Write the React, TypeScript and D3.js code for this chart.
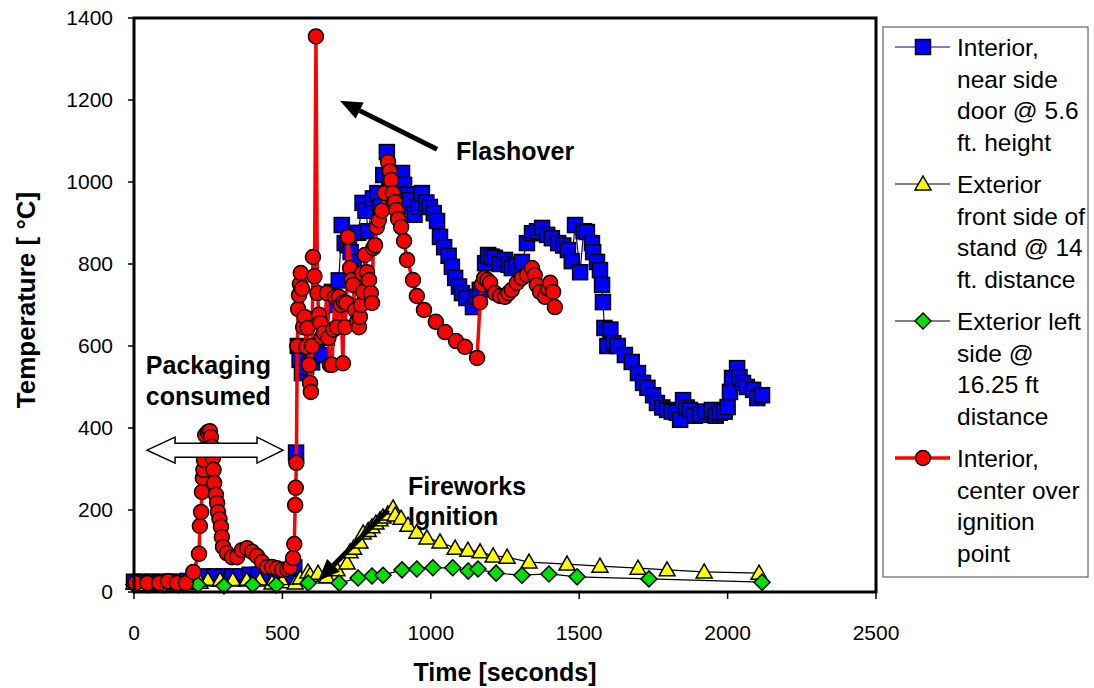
import React from 'react';
import * as d3 from 'd3';

// [time (s), temperature (°C)]
const interiorDoor: [number, number][] = [
  [0, 25], [30, 25], [60, 25], [90, 25], [120, 25], [150, 25], [180, 27], [210, 32], [240, 38], [270, 38],
  [300, 38], [330, 38], [360, 38], [390, 42], [420, 42], [450, 40], [480, 38], [510, 40], [530, 42], [540, 60],
  [546, 340], [552, 600], [558, 566], [566, 534], [580, 549], [600, 560], [615, 583], [633, 578], [650, 620],
  [667, 732], [680, 700], [690, 760], [700, 895], [710, 851], [720, 846], [730, 829], [740, 805], [755, 876],
  [770, 949], [780, 930], [790, 880], [805, 960], [820, 973], [830, 940], [840, 1017], [852, 1073], [860, 1012],
  [870, 990], [880, 960], [890, 940], [903, 1022], [910, 993], [920, 970], [930, 956], [945, 920], [960, 940],
  [970, 973], [985, 950], [997, 939], [1010, 924], [1021, 905], [1031, 866], [1045, 841], [1060, 820],
  [1071, 793], [1082, 766], [1095, 745], [1105, 729], [1120, 717], [1142, 695], [1155, 720], [1165, 737],
  [1183, 802], [1193, 822], [1205, 818], [1216, 815], [1232, 800], [1250, 810], [1262, 798], [1273, 790],
  [1290, 795], [1307, 805], [1324, 851], [1341, 875], [1358, 880], [1375, 888], [1392, 871], [1408, 863],
  [1429, 851], [1446, 845], [1462, 834], [1475, 807], [1486, 895], [1503, 780], [1515, 880], [1526, 878],
  [1543, 851], [1547, 829], [1560, 805], [1570, 785], [1577, 749], [1580, 707], [1585, 644], [1595, 600],
  [1605, 640], [1615, 607], [1630, 600], [1654, 578], [1677, 561], [1698, 534], [1715, 510], [1730, 498],
  [1749, 480], [1762, 461], [1780, 450], [1796, 444], [1812, 440], [1829, 437], [1840, 420], [1850, 468],
  [1862, 450], [1873, 444], [1890, 430], [1907, 432], [1925, 440], [1947, 444], [1960, 430], [1974, 437],
  [1990, 440], [2000, 451], [2008, 488], [2015, 522], [2032, 546], [2040, 524], [2052, 510], [2065, 500],
  [2086, 493], [2100, 473], [2116, 480],
];

const exteriorFront: [number, number][] = [
  [0, 22], [30, 18], [60, 18], [90, 20], [120, 20], [150, 20], [180, 20], [222, 24], [249, 29], [290, 29],
  [333, 29], [380, 29], [424, 29], [465, 22], [500, 25], [543, 22], [560, 34], [586, 49], [593, 41], [620, 46],
  [650, 37], [684, 54], [718, 71], [728, 98], [740, 107], [761, 122], [772, 144], [789, 150], [802, 159],
  [815, 168], [829, 176], [839, 183], [855, 190], [873, 205], [880, 188], [900, 180], [923, 163], [953, 146],
  [987, 132], [1031, 122], [1082, 107], [1125, 102], [1166, 98], [1210, 88], [1257, 85], [1331, 73],
  [1459, 68], [1570, 63], [1698, 58], [1796, 54], [1921, 49], [2106, 46],
];

const exteriorLeft: [number, number][] = [
  [0, 18], [50, 18], [100, 18], [150, 18], [215, 18], [303, 15], [400, 18], [479, 17], [587, 22], [691, 22],
  [755, 34], [802, 39], [839, 41], [903, 54], [953, 56], [1007, 59], [1074, 59], [1126, 51], [1159, 56],
  [1220, 46], [1307, 41], [1398, 44], [1493, 37], [1735, 32], [2116, 24],
];

const interiorCenter: [number, number][] = [
  [5, 22], [45, 22], [85, 22], [115, 26], [145, 22], [175, 22], [200, 49], [219, 93], [222, 161], [226, 195],
  [229, 244], [232, 278], [234, 298], [236, 322], [238, 349], [240, 383], [249, 390], [256, 392], [259, 378],
  [263, 354], [266, 327], [268, 298], [270, 266], [276, 237], [280, 217], [283, 195], [288, 178], [293, 159],
  [296, 134], [300, 110], [313, 95], [330, 85], [347, 85], [364, 102], [381, 107], [398, 98], [414, 88],
  [431, 73], [448, 61], [465, 61], [482, 58], [499, 54], [516, 56], [526, 61], [536, 83], [540, 117],
  [543, 212], [545, 254], [547, 315], [550, 600], [553, 690], [556, 724], [559, 751], [562, 778], [566, 740],
  [570, 646], [575, 671], [580, 598], [585, 644], [590, 554], [593, 510], [596, 488], [600, 600], [603, 817],
  [608, 770], [613, 1355], [618, 729], [623, 676], [628, 656], [633, 622], [640, 632], [650, 729], [655, 620],
  [660, 554], [667, 554], [672, 640], [677, 720], [684, 646], [690, 720], [697, 700], [704, 558], [707, 707],
  [711, 646], [716, 705], [721, 866], [728, 790], [733, 761], [738, 749], [745, 688], [752, 660], [758, 646],
  [761, 671], [765, 700], [768, 778], [772, 732], [778, 822], [785, 780], [792, 761], [798, 729], [802, 705],
  [806, 839], [812, 846], [818, 890], [825, 907], [835, 930], [845, 973], [856, 1049], [862, 1027],
  [866, 1005], [872, 973], [879, 951], [884, 932], [890, 910], [900, 890], [910, 856], [920, 810], [940, 761],
  [953, 722], [977, 688], [1017, 659], [1048, 634], [1085, 612], [1115, 598], [1156, 571], [1166, 707],
  [1172, 750], [1180, 766], [1190, 761], [1200, 754], [1216, 729], [1233, 722], [1250, 720], [1262, 729],
  [1273, 737], [1290, 754], [1307, 766], [1324, 773], [1341, 790], [1350, 773], [1357, 749], [1368, 732],
  [1385, 720], [1395, 740], [1402, 754], [1412, 732], [1418, 695],
];

const xTicks = [0, 500, 1000, 1500, 2000, 2500];
const yTicks = [0, 200, 400, 600, 800, 1000, 1200, 1400];

const legendLabels = [
  ['Interior,', 'near side', 'door @ 5.6', 'ft. height'],
  ['Exterior', 'front side of', 'stand @ 14', 'ft. distance'],
  ['Exterior left', 'side @', '16.25 ft', 'distance'],
  ['Interior,', 'center over', 'ignition', 'point'],
];

const font = 'Liberation Sans, Arial, sans-serif';

const x = d3.scaleLinear().domain([0, 2500]).range([134, 876]);
const y = d3.scaleLinear().domain([0, 1400]).range([592, 18]);

const line = d3.line<[number, number]>().x((d) => x(d[0])).y((d) => y(d[1]));

type Kind = 'square' | 'triangle' | 'diamond' | 'circle';

function Marker({ kind, cx, cy }: { kind: Kind; cx: number; cy: number }) {
  const st = { stroke: '#000', strokeWidth: 1.5 };
  if (kind === 'square')
    return <rect x={cx - 7.5} y={cy - 7.5} width={15} height={15} fill="#0000ff" {...st} />;
  if (kind === 'triangle')
    return (
      <polygon
        points={`${cx},${cy - 8} ${cx + 8},${cy + 6} ${cx - 8},${cy + 6}`}
        fill="#ffff00"
        {...st}
      />
    );
  if (kind === 'diamond')
    return (
      <polygon
        points={`${cx},${cy - 8} ${cx + 8},${cy} ${cx},${cy + 8} ${cx - 8},${cy}`}
        fill="#00e000"
        {...st}
      />
    );
  return <circle cx={cx} cy={cy} r={7.5} fill="#ff0000" {...st} />;
}

const series: { data: [number, number][]; kind: Kind; color: string; width: number }[] = [
  { data: interiorDoor, kind: 'square', color: '#000080', width: 1.2 },
  { data: exteriorFront, kind: 'triangle', color: '#000', width: 1.2 },
  { data: exteriorLeft, kind: 'diamond', color: '#000', width: 1.2 },
  { data: interiorCenter, kind: 'circle', color: '#ff0000', width: 3.5 },
];

function Arrow({ x1, y1, x2, y2 }: { x1: number; y1: number; x2: number; y2: number }) {
  const ang = Math.atan2(y2 - y1, x2 - x1);
  const len = 22;
  const half = 9;
  const bx = x2 - len * Math.cos(ang);
  const by = y2 - len * Math.sin(ang);
  const px = -Math.sin(ang) * half;
  const py = Math.cos(ang) * half;
  return (
    <g>
      <line x1={x1} y1={y1} x2={bx} y2={by} stroke="#000" strokeWidth={5} />
      <polygon points={`${x2},${y2} ${bx + px},${by + py} ${bx - px},${by - py}`} fill="#000" />
    </g>
  );
}

export default function App() {
  // double-headed outline arrow for "Packaging consumed"
  const ax1 = x(44), ax2 = x(502), ay = y(346);
  const dbl = [
    [ax1, ay], [ax1 + 28, ay - 13], [ax1 + 28, ay - 7], [ax2 - 26, ay - 7], [ax2 - 26, ay - 13],
    [ax2, ay], [ax2 - 26, ay + 13], [ax2 - 26, ay + 7], [ax1 + 28, ay + 7], [ax1 + 28, ay + 13],
  ].map((p) => p.join(',')).join(' ');

  return (
    <svg width={1094} height={688} style={{ position: 'absolute', left: 0, top: 0, background: '#fff' }}
      fontFamily={font}>
      <rect width={1094} height={688} fill="#fff" />

      {/* ticks */}
      {yTicks.map((t) => (
        <g key={'y' + t}>
          <line x1={128} x2={134} y1={y(t)} y2={y(t)} stroke="#000" strokeWidth={1.5} />
          <text x={113} y={y(t)} dy="0.35em" textAnchor="end" fontSize={21}>{t}</text>
        </g>
      ))}
      {xTicks.map((t) => (
        <g key={'x' + t}>
          <line x1={x(t)} x2={x(t)} y1={592} y2={599} stroke="#000" strokeWidth={1.5} />
          <text x={x(t)} y={640} textAnchor="middle" fontSize={21}>{t}</text>
        </g>
      ))}

      {/* series */}
      {series.map((s, i) => (
        <g key={i}>
          <path d={line(s.data) ?? ''} fill="none" stroke={s.color} strokeWidth={s.width} />
          {s.data.map((d, j) => (
            <Marker key={j} kind={s.kind} cx={x(d[0])} cy={y(d[1])} />
          ))}
        </g>
      ))}

      {/* plot frame */}
      <rect x={134} y={18} width={742} height={574} fill="none" stroke="#000" strokeWidth={3} />

      {/* annotations */}
      <Arrow x1={x(1021)} y1={y(1080)} x2={x(694)} y2={y(1198)} />
      <text x={x(1085)} y={y(1054)} fontSize={25} fontWeight="bold">Flashover</text>
      <text x={x(40)} y={y(532)} fontSize={25} fontWeight="bold">Packaging</text>
      <text x={x(40)} y={y(456)} fontSize={25} fontWeight="bold">consumed</text>
      <polygon points={dbl} fill="#fff" stroke="#000" strokeWidth={1.5} />
      <text x={x(923)} y={y(237)} fontSize={25} fontWeight="bold">Fireworks</text>
      <text x={x(923)} y={y(163)} fontSize={25} fontWeight="bold">Ignition</text>
      <Arrow x1={x(856)} y1={y(200)} x2={x(620)} y2={y(27)} />

      {/* axis titles */}
      <text x={505} y={681} textAnchor="middle" fontSize={25} fontWeight="bold">Time [seconds]</text>
      <text transform="translate(35,300) rotate(-90)" textAnchor="middle" fontSize={26} fontWeight="bold">
        Temperature [ °C]
      </text>

      {/* legend */}
      <rect x={883} y={27} width={205} height={550} fill="#fff" stroke="#444" strokeWidth={1} />
      {legendLabels.map((lines, i) => {
        const top = 47 + i * 137;
        const s = series[i];
        return (
          <g key={i}>
            <line x1={895} x2={950} y1={top} y2={top} stroke={s.color} strokeWidth={s.width} />
            <Marker kind={s.kind} cx={923} cy={top} />
            {lines.map((l, k) => (
              <text key={k} x={957} y={top + k * 31.5 + 9} fontSize={24.5}>{l}</text>
            ))}
          </g>
        );
      })}
    </svg>
  );
}
